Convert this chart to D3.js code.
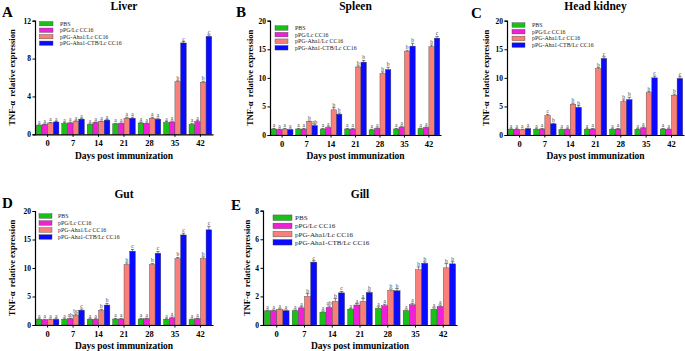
<!DOCTYPE html>
<html>
<head>
<meta charset="utf-8">
<script src="https://cdn.jsdelivr.net/npm/d3@7"></script>
<style>
body { margin: 0; background: #fff; }
svg { display: block; font-family: "Liberation Serif", "Times New Roman", serif; }
</style>
</head>
<body>
<div id="mainArea"></div>
<script>
// x categories and series names
var days = ["0", "7", "14", "21", "28", "35", "42"];
var groups = ["PBS", "pPG/Lc CC16", "pPG-Aha1/Lc CC16", "pPG-Aha1-CTB/Lc CC16"];
var colors = ["#18c018", "#f020d8", "#f88078", "#0a0aff"];

// Liver
var liverPBS  = [0.95, 1.15, 1.05, 1.1, 1.2, 1.25, 1.05];
var liverPPG  = [1.05, 1.2, 1.25, 1.15, 1.15, 1.3, 1.35];
var liverAha  = [1.2, 1.35, 1.35, 1.7, 1.7, 5.55, 5.5];
var liverCTB  = [1.3, 1.6, 1.5, 1.7, 1.6, 9.65, 10.35];
var liverErr  = [[0.05,0.08,0.05,0.05,0.1,0.1,0.1],[0.05,0.08,0.05,0.05,0.05,0.1,0.1],[0.05,0.08,0.05,0.1,0.1,0.1,0.1],[0.05,0.05,0.05,0.1,0.1,0.15,0.15]];
var liverLet  = [["a","a","a","a","a","a","a"],["a","a","a","a","a","a","a"],["a","a","a","a","a","b","b"],["a","a","a","a","a","c","c"]];
var liverTicks = [0, 4, 8, 12];

// Spleen
var spleenPBS = [1.05, 1.05, 1.05, 1.05, 0.9, 1.05, 1.1];
var spleenPPG = [0.95, 1.05, 1.3, 1.05, 1.15, 1.4, 1.3];
var spleenAha = [1.05, 2.35, 4.4, 11.9, 10.75, 14.6, 15.45];
var spleenCTB = [0.95, 1.65, 3.65, 12.75, 11.45, 15.55, 16.95];
var spleenErr = [[0.1,0.1,0.1,0.1,0.1,0.1,0.1],[0.1,0.1,0.15,0.1,0.1,0.15,0.1],[0.1,0.1,0.4,0.2,0.3,0.2,0.3],[0.1,0.15,0.2,0.3,0.4,0.5,0.3]];
var spleenLet = [["a","a","a","a","a","a","a"],["a","a","a","a","a","a","a"],["a","b","b","b","b","b","b"],["a","ab","b","b","b","b","c"]];
var spleenTicks = [0, 5, 10, 15, 20];

// Head kidney
var kidneyPBS = [1.0, 1.0, 0.95, 1.0, 1.0, 1.0, 1.05];
var kidneyPPG = [1.0, 1.05, 1.0, 1.05, 1.05, 1.25, 1.0];
var kidneyAha = [0.9, 3.4, 5.4, 11.6, 5.85, 7.4, 6.95];
var kidneyCTB = [1.1, 1.95, 4.85, 13.4, 6.2, 10.0, 9.9];
var kidneyErr = [[0.1,0.1,0.1,0.1,0.1,0.1,0.1],[0.1,0.1,0.1,0.1,0.1,0.15,0.1],[0.1,0.2,0.2,0.2,0.3,0.2,0.2],[0.1,0.1,0.3,0.3,0.4,0.3,0.3]];
var kidneyLet = [["a","a","a","a","a","a","a"],["a","a","a","a","a","a","a"],["a","c","b","b","b","b","b"],["a","b","b","c","b","c","c"]];
var kidneyTicks = [0, 5, 10, 15, 20];

// Gut
var gutPBS = [1.0, 1.0, 1.0, 1.05, 1.05, 1.0, 0.95];
var gutPPG = [0.9, 1.1, 1.0, 1.05, 1.1, 1.25, 1.1];
var gutAha = [0.95, 1.75, 2.55, 10.6, 10.6, 11.65, 11.65];
var gutCTB = [1.0, 2.6, 3.5, 12.95, 12.6, 15.8, 16.7];
var gutErr = [[0.1,0.1,0.1,0.1,0.1,0.1,0.1],[0.1,0.1,0.1,0.1,0.1,0.15,0.1],[0.1,0.2,0.2,0.3,0.2,0.2,0.3],[0.1,0.2,0.3,0.3,0.3,0.3,0.6]];
var gutLet = [["a","a","a","a","a","a","a"],["a","ab","a","a","a","a","a"],["a","bc","b","b","b","b","b"],["a","c","b","c","c","c","c"]];
var gutTicks = [0, 5, 10, 15, 20];

// Gill
var gillPBS = [0.99, 1.0, 0.9, 1.1, 1.17, 1.0, 1.1];
var gillPPG = [1.0, 1.2, 1.23, 1.4, 1.35, 1.42, 1.3];
var gillAha = [1.08, 2.0, 1.65, 1.65, 2.42, 3.87, 4.0];
var gillCTB = [1.0, 4.4, 2.25, 2.28, 2.4, 4.32, 4.28];
var gillErr = [[0.05,0.05,0.08,0.05,0.1,0.05,0.1],[0.05,0.08,0.1,0.1,0.1,0.1,0.1],[0.05,0.2,0.2,0.2,0.1,0.2,0.3],[0.05,0.1,0.1,0.1,0.15,0.1,0.15]];
var gillLet = [["a","a","a","a","a","a","a"],["a","a","ab","a","a","a","a"],["a","b","b","a","b","b","b"],["a","c","c","b","b","b","b"]];
var gillTicks = [0, 2, 4, 6, 8];

var width = 685, height = 351;
var vis = d3.select("#mainArea").append("svg")
    .attr("width", width)
    .attr("height", height);

// layout for each panel: axis box, label spots, legend
var panels = [
  {tag: "A", title: "Liver", vals: [liverPBS, liverPPG, liverAha, liverCTB], err: liverErr, lets: liverLet, ticks: liverTicks,
   x0: 35, x1: 213, yT: 20.7, yB: 134.3, tagX: 2, tagY: 17, titleY: 10, ylabX: 15, tickY: 146, xlabY: 159,
   lgX: 39.5, lgY: 23.7, lgDy: 6.5, lgW: 13.5, lgH: 4.3, lgTx: 60, lgFs: 5.9},
  {tag: "B", title: "Spleen", vals: [spleenPBS, spleenPPG, spleenAha, spleenCTB], err: spleenErr, lets: spleenLet, ticks: spleenTicks,
   x0: 270, x1: 441, yT: 20.7, yB: 135, tagX: 236, tagY: 17, titleY: 10, ylabX: 253, tickY: 146, xlabY: 159,
   lgX: 275, lgY: 28, lgDy: 6.6, lgW: 13, lgH: 4.5, lgTx: 295, lgFs: 5.9},
  {tag: "C", title: "Head kidney", vals: [kidneyPBS, kidneyPPG, kidneyAha, kidneyCTB], err: kidneyErr, lets: kidneyLet, ticks: kidneyTicks,
   x0: 507, x1: 684, yT: 20.7, yB: 135, tagX: 471, tagY: 18, titleY: 10, ylabX: 489, tickY: 146, xlabY: 159,
   lgX: 512, lgY: 25, lgDy: 6.7, lgW: 13, lgH: 4.5, lgTx: 532, lgFs: 5.9},
  {tag: "D", title: "Gut", vals: [gutPBS, gutPPG, gutAha, gutCTB], err: gutErr, lets: gutLet, ticks: gutTicks,
   x0: 35, x1: 213, yT: 211, yB: 325, tagX: 2, tagY: 208, titleY: 198, ylabX: 15, tickY: 336, xlabY: 349,
   lgX: 39, lgY: 216, lgDy: 7, lgW: 13, lgH: 4.5, lgTx: 58, lgFs: 5.9},
  {tag: "E", title: "Gill", vals: [gillPBS, gillPPG, gillAha, gillCTB], err: gillErr, lets: gillLet, ticks: gillTicks,
   x0: 263, x1: 457, yT: 210.7, yB: 325, tagX: 231, tagY: 210, titleY: 198, ylabX: 250, tickY: 336, xlabY: 349,
   lgX: 273, lgY: 217.7, lgDy: 8.2, lgW: 19, lgH: 5.5, lgTx: 295, lgFs: 7.1}
];

panels.forEach(function(p) {
  var g = vis.append("g");
  var yMax = p.ticks[p.ticks.length - 1];
  var x = d3.scaleBand().domain(days).range([p.x0, p.x1]).paddingInner(0.11).paddingOuter(0.05);
  var xs = d3.scaleBand().domain(d3.range(4)).range([0, x.bandwidth()]);
  var y = d3.scaleLinear().domain([0, yMax]).range([p.yB, p.yT]);

  // bars
  p.vals.forEach(function(series, si) {
    g.selectAll(null).data(series).enter().append("rect")
      .attr("x", function(d, i) { return x(days[i]) + xs(si); })
      .attr("y", function(d) { return y(d); })
      .attr("width", xs.bandwidth())
      .attr("height", function(d) { return y(0) - y(d); })
      .attr("fill", colors[si])
      .attr("stroke", "#444")
      .attr("stroke-width", 0.4);

    // error bars
    var cx = function(i) { return x(days[i]) + xs(si) + xs.bandwidth() / 2; };
    g.selectAll(null).data(series).enter().append("path")
      .attr("d", function(d, i) {
        var top = y(d + p.err[si][i]), c = cx(i), w = xs.bandwidth() * 0.3;
        return "M" + c + "," + y(d) + "V" + top + "M" + (c - w) + "," + top + "H" + (c + w);
      })
      .attr("stroke", "#333")
      .attr("stroke-width", 0.6)
      .attr("fill", "none");

    // significance letters
    g.selectAll(null).data(series).enter().append("text")
      .attr("x", function(d, i) { return cx(i); })
      .attr("y", function(d, i) { return y(d + p.err[si][i]) - 1; })
      .attr("text-anchor", "middle")
      .attr("font-size", 5.5)
      .attr("fill", "#333")
      .text(function(d, i) { return p.lets[si][i]; });
  });

  // axes
  var yAxis = g.append("g").attr("transform", "translate(" + p.x0 + ",0)")
    .call(d3.axisLeft(y).tickValues(p.ticks).tickSize(2.5).tickPadding(1.5));
  yAxis.select(".domain").attr("stroke-width", 1.2);
  yAxis.selectAll("line").attr("stroke-width", 1);
  yAxis.selectAll("text").attr("font-size", 7.5).attr("font-weight", "bold")
    .attr("font-family", "Liberation Serif, serif");

  var xAxis = g.append("g").attr("transform", "translate(0," + p.yB + ")")
    .call(d3.axisBottom(x).tickSize(2.5).tickSizeOuter(0).tickPadding(3));
  xAxis.select(".domain").attr("stroke-width", 1.2);
  xAxis.selectAll("line").attr("stroke-width", 1);
  xAxis.selectAll("text").attr("font-size", 8.5).attr("font-weight", "bold")
    .attr("font-family", "Liberation Serif, serif");

  // labels
  var cxMid = (p.x0 + p.x1) / 2;
  g.append("text").attr("x", cxMid).attr("y", p.titleY)
    .attr("text-anchor", "middle").attr("font-size", 11.5).attr("font-weight", "bold").text(p.title);
  g.append("text").attr("x", p.tagX).attr("y", p.tagY)
    .attr("font-size", 15).attr("font-weight", "bold").text(p.tag);
  g.append("text").attr("x", cxMid).attr("y", p.xlabY)
    .attr("text-anchor", "middle").attr("font-size", 9.5).attr("font-weight", "bold").text("Days post immunization");
  g.append("text")
    .attr("transform", "translate(" + p.ylabX + "," + ((p.yT + p.yB) / 2) + ") rotate(-90)")
    .attr("text-anchor", "middle").attr("font-size", 8.5).attr("font-weight", "bold")
    .attr("xml:space", "preserve")
    .text("TNF-\u03b1  relative expression");

  // legend
  groups.forEach(function(name, si) {
    var ly = p.lgY + si * p.lgDy;
    g.append("rect").attr("x", p.lgX).attr("y", ly - p.lgH / 2)
      .attr("width", p.lgW).attr("height", p.lgH)
      .attr("fill", colors[si]).attr("stroke", "#444").attr("stroke-width", 0.4);
    g.append("text").attr("x", p.lgTx).attr("y", ly + p.lgFs * 0.35)
      .attr("font-size", p.lgFs).attr("fill", "#222").text(name);
  });
});
</script>
</body>
</html>
